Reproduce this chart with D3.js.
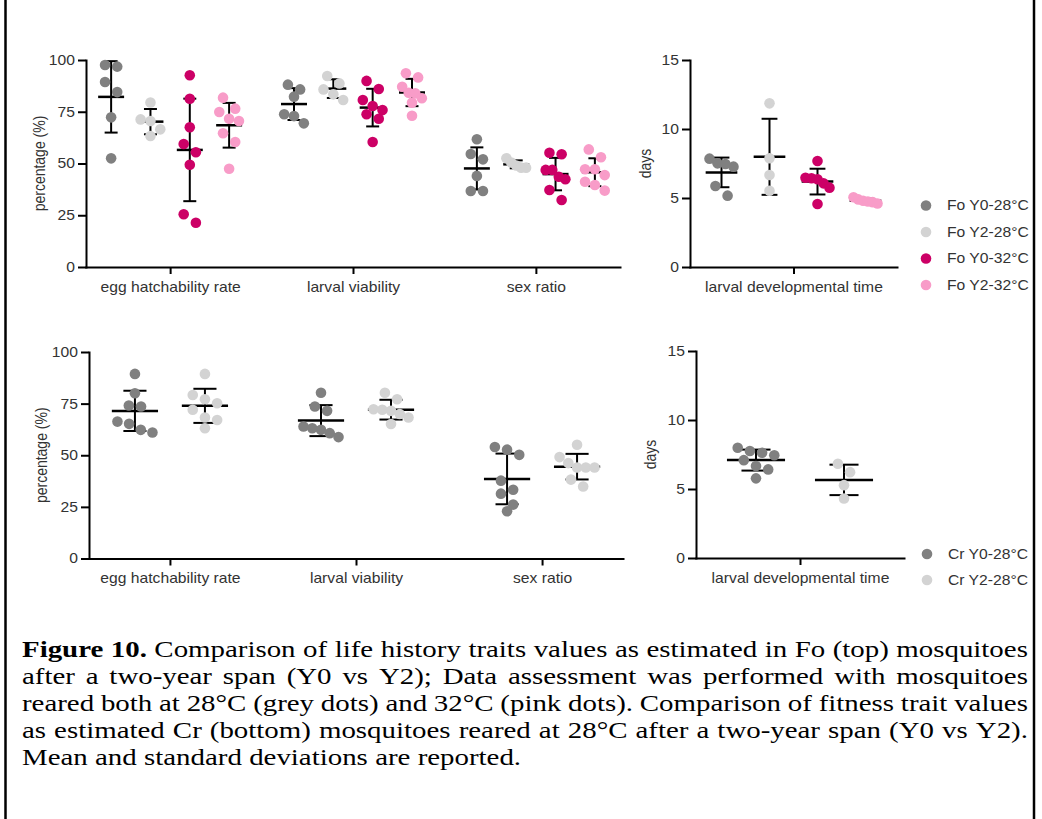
<!DOCTYPE html>
<html><head><meta charset="utf-8">
<script src="https://cdn.jsdelivr.net/npm/d3@7"></script>
<style>
body{margin:0;background:#fff;}
svg{display:block;}
</style></head><body>
<svg id="chart" width="1042" height="819"></svg>
<script>
// ---------------- DATA ----------------
const traits = ["egg hatchability rate", "larval viability", "sex ratio"];
const devTrait = ["larval developmental time"];
const foGroups = ["Fo Y0-28°C", "Fo Y2-28°C", "Fo Y0-32°C", "Fo Y2-32°C"];
const crGroups = ["Cr Y0-28°C", "Cr Y2-28°C"];
const pctTicks = [0, 25, 50, 75, 100];
const dayTicks = [0, 5, 10, 15];

// Fo (top) — one array per group, in foGroups order
const foEgg = [
  [97.6, 96.8, 89.4, 84.5, 72.3, 52.5],
  [79.5, 71.3, 70.5, 66.5, 63.3],
  [92.6, 81.3, 67.5, 59.4, 55.4, 49.4, 25.5, 21.4],
  [81.8, 76.5, 74.9, 71.6, 70.5, 64.6, 60.4, 47.5]
];
const foLarval = [
  [88.1, 85.8, 82.3, 73.8, 72.9, 69.4],
  [92.3, 88.7, 85.8, 83.4, 80.7],
  [89.9, 86.0, 80.7, 77.8, 75.8, 73.8, 71.6, 60.4],
  [93.6, 91.6, 87.1, 84.2, 83.9, 81.5, 79.4, 73.1]
];
const foSex = [
  [61.7, 54.6, 52.0, 44.0, 36.7, 36.7],
  [52.5, 50.5, 49.0, 48.0, 48.0],
  [55.2, 54.5, 46.9, 46.9, 43.6, 42.4, 37.2, 32.4],
  [56.8, 53.0, 47.2, 47.2, 44.4, 41.2, 39.6, 36.9]
];
const foDays = [
  [7.85, 7.51, 7.46, 7.27, 5.87, 5.17],
  [11.86, 7.88, 6.67, 5.53],
  [7.68, 6.47, 6.43, 6.36, 6.06, 5.75, 4.57],
  [5.05, 4.9, 4.8, 4.75, 4.7, 4.6]
];

// Cr (bottom)
const crEgg = [
  [89.4, 80.0, 74.1, 73.6, 66.3, 65.2, 62.3, 61.0],
  [89.4, 79.2, 77.1, 75.2, 72.0, 68.3, 67.1, 63.1]
];
const crLarval = [
  [80.3, 73.6, 71.5, 63.9, 63.1, 62.3, 60.7, 58.8],
  [80.3, 77.1, 72.3, 72.0, 71.5, 70.0, 68.3, 65.1]
];
const crSex = [
  [54.0, 52.7, 50.2, 37.7, 33.3, 31.4, 26.1, 22.9],
  [55.1, 49.1, 46.2, 44.1, 44.1, 44.1, 38.2, 34.9]
];
const crDays = [
  [7.99, 7.75, 7.63, 7.45, 7.09, 6.66, 6.42, 5.77],
  [6.83, 6.22, 5.28, 4.31]
];

const foColors = ["#808080", "#d3d3d3", "#cc0066", "#f89cc8"];
const crColors = ["#808080", "#d3d3d3"];

const captionLines = [
  [["Figure 10.", true], ["Comparison of life history traits values as estimated in Fo (top) mosquitoes", false]],
  [["after a two-year span (Y0 vs Y2); Data assessment was performed with mosquitoes", false]],
  [["reared both at 28°C (grey dots) and 32°C (pink dots). Comparison of fitness trait values", false]],
  [["as estimated Cr (bottom) mosquitoes reared at 28°C after a two-year span (Y0 vs Y2).", false]],
  [["Mean and standard deviations are reported.", false]]
];

// ---------------- DRAW ----------------
const svg = d3.select("#chart");
const SX = 1.12;          // horizontal stretch of the chart text
const FONT = "'Liberation Sans', Arial, Helvetica, sans-serif";
const R = 5.3;
const TXT = "#333";

svg.append("rect").attr("width", 1042).attr("height", 819).attr("fill", "#fff");
// frame (left and right edges of the figure box)
svg.append("line").attr("x1", 5.5).attr("x2", 5.5).attr("y1", 0).attr("y2", 819)
  .attr("stroke", "#000").attr("stroke-width", 2.5);
svg.append("line").attr("x1", 1034).attr("x2", 1034).attr("y1", 0).attr("y2", 819)
  .attr("stroke", "#000").attr("stroke-width", 2.5);

function swarm(ys, colW) {
  const idx = ys.map((v, i) => i).sort((a, b) => ys[a] - ys[b]);
  const xs = new Array(ys.length).fill(0);
  const th = 2 * R * 1.1;
  let row = [];
  const flush = () => {
    const n = row.length;
    let step = 2 * R * 1.15;
    const maxS = colW * 0.5;
    if (n > 1 && (n - 1) * step > maxS) step = maxS / (n - 1);
    row.forEach((k, j) => xs[k] = (j - (n - 1) / 2) * step);
    row = [];
  };
  idx.forEach(i => {
    if (row.length && ys[i] - ys[row[0]] >= th) flush();
    row.push(i);
  });
  flush();
  return xs;
}

function drawPanel(p) {
  const g = svg.append("g");
  const y = d3.scaleLinear().domain(p.domain).range([p.yBot, p.yTop]);
  const x = d3.scalePoint().domain(p.cats).range([p.x0, p.x1]).padding(p.pad);
  const off = d3.scalePoint().domain(p.groups).range([-p.span, p.span]);
  const colW = off.step();

  // error bars + mean (under dots)
  p.data.forEach((series, ci) => {
    series.forEach((vals, gi) => {
      const cx = x(p.cats[ci]) + off(p.groups[gi]);
      const m = d3.mean(vals), sd = d3.deviation(vals);
      const eb = g.append("g").attr("stroke", "#000").attr("stroke-width", 2);
      const cw = colW * 0.165, mw = colW * 0.33;
      eb.append("line").attr("x1", cx).attr("x2", cx).attr("y1", y(m + sd)).attr("y2", y(m - sd));
      eb.append("line").attr("x1", cx - cw).attr("x2", cx + cw).attr("y1", y(m + sd)).attr("y2", y(m + sd));
      eb.append("line").attr("x1", cx - cw).attr("x2", cx + cw).attr("y1", y(m - sd)).attr("y2", y(m - sd));
      eb.append("line").attr("x1", cx - mw).attr("x2", cx + mw).attr("y1", y(m)).attr("y2", y(m)).attr("stroke-width", 2.5);
    });
  });
  // dots
  p.data.forEach((series, ci) => {
    series.forEach((vals, gi) => {
      const cx = x(p.cats[ci]) + off(p.groups[gi]);
      const ys = vals.map(v => y(v));
      const xs = swarm(ys, colW);
      g.append("g").selectAll("circle").data(vals).join("circle")
        .attr("cx", (d, i) => cx + xs[i]).attr("cy", (d, i) => ys[i])
        .attr("r", R).attr("fill", p.colors[gi]);
    });
  });

  // axes
  const ya = g.append("g").attr("transform", `translate(${p.x0},0)`)
    .call(d3.axisLeft(y).tickValues(p.ticks).tickSize(8).tickPadding(3).tickSizeOuter(0));
  const xa = g.append("g").attr("transform", `translate(0,${p.yBot})`)
    .call(d3.axisBottom(x).tickSize(7).tickPadding(8).tickSizeOuter(0));
  [ya, xa].forEach(a => {
    a.select(".domain").attr("stroke", "#000").attr("stroke-width", 2).attr("stroke-linecap", "square");
    a.selectAll(".tick line").attr("stroke", "#000").attr("stroke-width", 2);
    a.selectAll("text").attr("font-family", FONT).attr("font-size", 14).attr("fill", TXT);
  });
  ya.selectAll(".tick text").each(function () {
    const t = d3.select(this);
    const tx = +t.attr("x");
    t.attr("x", 0).attr("transform", `translate(${tx},0) scale(${SX},1)`);
  });
  xa.selectAll(".tick text").each(function () {
    const t = d3.select(this);
    const ty = +t.attr("y");
    t.attr("y", 0).attr("transform", `translate(0,${ty}) scale(${SX},1)`);
  });
  // y title
  g.append("text").attr("transform", `translate(${p.ylabX},${(p.yTop + p.yBot) / 2}) scale(${SX},1) rotate(-90)`)
    .attr("text-anchor", "middle").attr("dy", "0.35em")
    .attr("font-family", FONT).attr("font-size", 14).attr("fill", TXT).text(p.ylab);
}

drawPanel({x0: 86, x1: 620, yTop: 60, yBot: 267, pad: 0.46, domain: [0, 100], ticks: pctTicks,
  cats: traits, data: [foEgg, foLarval, foSex], groups: foGroups, colors: foColors, span: 59,
  ylab: "percentage (%)", ylabX: 40});
drawPanel({x0: 690, x1: 897, yTop: 60, yBot: 267, pad: 0.5, domain: [0, 15], ticks: dayTicks,
  cats: devTrait, data: [foDays], groups: foGroups, colors: foColors, span: 72,
  ylab: "days", ylabX: 646});
drawPanel({x0: 89, x1: 623, yTop: 352, yBot: 558.5, pad: 0.435, domain: [0, 100], ticks: pctTicks,
  cats: traits, data: [crEgg, crLarval, crSex], groups: crGroups, colors: crColors, span: 35,
  ylab: "percentage (%)", ylabX: 42});
drawPanel({x0: 696, x1: 904, yTop: 351, yBot: 558, pad: 0.5, domain: [0, 15], ticks: dayTicks,
  cats: devTrait, data: [crDays], groups: crGroups, colors: crColors, span: 44,
  ylab: "days", ylabX: 651});

// legends
function legend(groups, colors, x, y0, dy) {
  const lg = svg.append("g");
  groups.forEach((name, i) => {
    const yy = y0 + i * dy;
    lg.append("circle").attr("cx", x).attr("cy", yy).attr("r", R).attr("fill", colors[i]);
    lg.append("text").attr("transform", `translate(${x + 21},${yy}) scale(${SX},1)`)
      .attr("dy", "0.35em").attr("font-family", FONT).attr("font-size", 14).attr("fill", TXT).text(name);
  });
}
legend(foGroups, foColors, 926, 205.5, 26.5);
legend(crGroups, crColors, 927, 554, 26);

// caption (justified lines)
const CFS = 22.5, CSX = 28.9 / CFS, CX0 = 22, CX1 = 1028;
const cap = svg.append("g").attr("font-family", "'Liberation Serif', 'Times New Roman', serif")
  .attr("font-size", CFS).attr("fill", "#000");
const meas = cap.append("text").attr("visibility", "hidden");
function wWidth(s, bold) {
  meas.attr("font-weight", bold ? "bold" : "normal").text(s);
  return meas.node().getComputedTextLength();
}
const spaceW = wWidth("a a", false) - wWidth("aa", false);
captionLines.forEach((parts, li) => {
  const words = [];
  parts.forEach(([s, b]) => s.split(" ").forEach(w => words.push({w, b, width: wWidth(w, b)})));
  const total = d3.sum(words, d => d.width);
  const W = (CX1 - CX0) / CSX;
  const last = li === captionLines.length - 1;
  const gap = last ? spaceW : (W - total) / (words.length - 1);
  const t = cap.append("text").attr("transform", `translate(${CX0},${657 + li * 27}) scale(${CSX},1)`);
  let xx = 0;
  words.forEach(d => {
    t.append("tspan").attr("x", xx).attr("font-weight", d.b ? "bold" : "normal").text(d.w);
    xx += d.width + gap;
  });
});
meas.remove();
</script>
</body></html>
